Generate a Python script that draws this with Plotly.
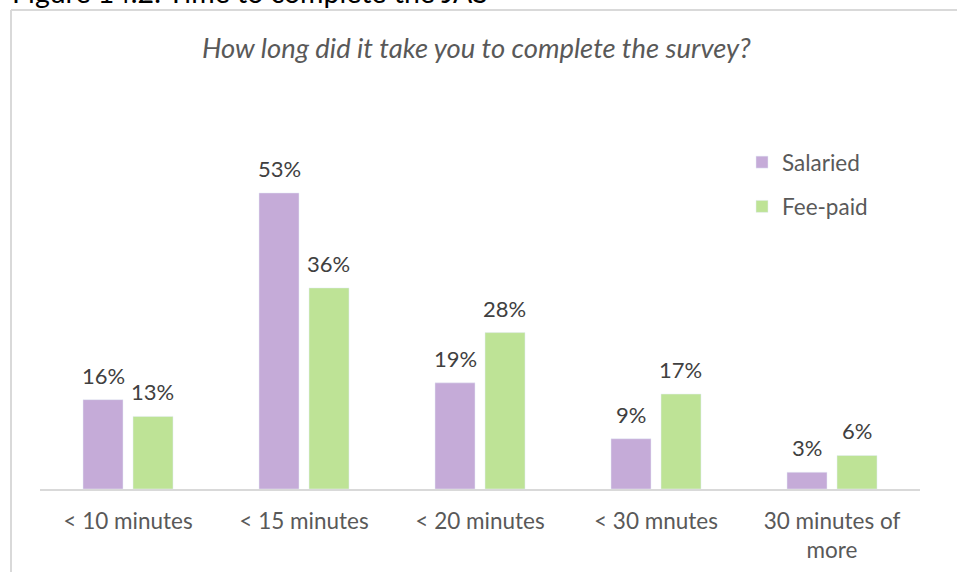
import plotly.graph_objects as go

categories = ["< 10 minutes", "< 15 minutes", "< 20 minutes", "< 30 mnutes", "30 minutes of<br>more"]
salaried = [16, 53, 19, 9, 3]
fee_paid = [13, 36, 28, 17, 6]
series_names = ["Salaried", "Fee-paid"]
chart_title = "How long did it take you to complete the survey?"
figure_title = "Figure 14.2: Time to complete the JAS"

PURPLE = "#C5ABD8"
GREEN = "#BEE396"
FONT = "Lato"

W, H = 957, 572
L, R, T, B = 40, 37, 98, 83
PW, PH = W - L - R, H - T - B


def xp(px):
    return (px - L) / PW


def yp(py):
    return 1 - (py - T) / PH


fig = go.Figure()
fig.add_trace(go.Bar(x=categories, y=salaried, name=series_names[0], marker_color=PURPLE,
                     legendgroup="a", hoverinfo="skip"))
fig.add_trace(go.Bar(x=categories, y=fee_paid, name=series_names[1], marker_color=GREEN,
                     legendgroup="b", hoverinfo="skip"))

annotations = []
off = 0.142
for i, (s, f) in enumerate(zip(salaried, fee_paid)):
    for val, dx in ((s, -off), (f, off)):
        annotations.append(dict(x=i + dx, y=val, xref="x", yref="y", text=f"{val}%",
                                showarrow=False, yanchor="bottom", yshift=9,
                                font=dict(family=FONT, size=22, color="#404040")))

annotations.append(dict(x=xp(476), y=yp(47), xref="paper", yref="paper", text=chart_title,
                        showarrow=False, xanchor="center", yanchor="middle",
                        font=dict(family=FONT, size=27.4, color="#595959", style="italic")))
annotations.append(dict(x=xp(10), y=yp(10.5), xref="paper", yref="paper", text=figure_title,
                        showarrow=False, xanchor="left", yanchor="bottom",
                        font=dict(family=FONT, size=28.5, color="#000000")))

shapes = [
    dict(type="line", xref="paper", yref="paper", x0=xp(11), x1=xp(11), y0=yp(10), y1=yp(600),
         line=dict(color="#D9D9D9", width=2)),
    dict(type="line", xref="paper", yref="paper", x0=xp(11), x1=xp(980), y0=yp(10), y1=yp(10),
         line=dict(color="#D9D9D9", width=2)),
]

fig.update_layout(
    width=W, height=H,
    margin=dict(l=L, r=R, t=T, b=B, autoexpand=False),
    paper_bgcolor="white", plot_bgcolor="white",
    barmode="group", bargap=0.432, bargroupgap=0.2,
    font=dict(family=FONT, size=21, color="#595959"),
    showlegend=True,
    legend=dict(x=xp(742), y=yp(141), xanchor="left", yanchor="top",
                font=dict(family=FONT, size=22.5, color="#595959"),
                tracegroupgap=12, bgcolor="rgba(0,0,0,0)"),
    annotations=annotations,
    shapes=shapes,
    xaxis=dict(type="category", showgrid=False, showline=True, linecolor="#D9D9D9", linewidth=2,
               ticks="outside", ticklen=11, tickcolor="rgba(0,0,0,0)", automargin=False,
               tickfont=dict(family=FONT, size=22.5, color="#595959"), fixedrange=True),
    yaxis=dict(range=[0, 70], visible=False, showgrid=False, zeroline=False, fixedrange=True,
               automargin=False),
)

fig.write_html("out.html", config={"displayModeBar": False, "staticPlot": True},
               post_script="document.body.style.margin='0';document.body.style.overflow='hidden';")
